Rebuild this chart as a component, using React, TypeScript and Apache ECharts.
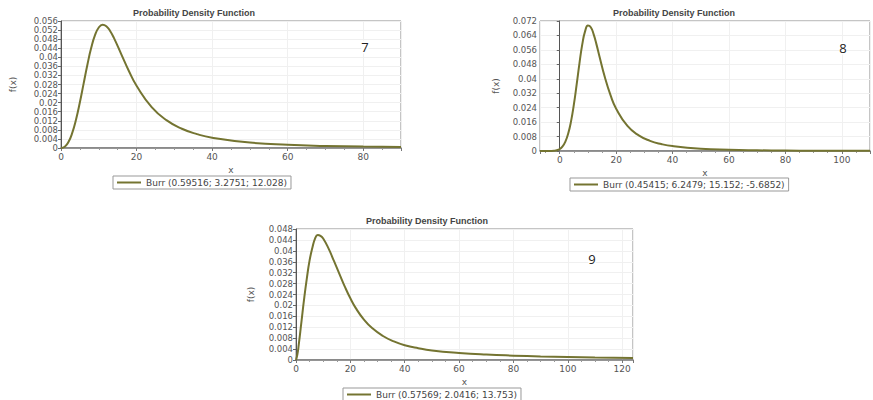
import React, { useEffect, useRef } from "react";
import * as echarts from "echarts";

// ---------- data ----------
const seriesName7 = "Burr (0.59516; 3.2751; 12.028)";
const seriesName8 = "Burr (0.45415; 6.2479; 15.152; -5.6852)";
const seriesName9 = "Burr (0.57569; 2.0416; 13.753)";

const x7 = [0, 1, 2, 3, 4, 5, 6, 7, 8, 9, 10, 11, 12, 13, 14, 16, 18, 20, 24, 28, 32, 36, 40, 50, 60, 70, 80, 90];
const y7 = [0, 0.00057, 0.00272, 0.00677, 0.01269, 0.02015, 0.02851, 0.03683, 0.04416, 0.04973, 0.05313, 0.05435, 0.05368, 0.05159, 0.04853, 0.04118, 0.03384, 0.02744, 0.01804, 0.01217, 0.00849, 0.00612, 0.00454, 0.00239, 0.0014, 0.0009, 0.00061, 0.00043];

const x8 = [-7, -5.69, -3, -2, -1, 0, 1, 2, 3, 4, 5, 6, 7, 8, 9, 10, 11, 12, 13, 14, 16, 18, 20, 24, 28, 32, 36, 40, 50, 60, 70, 80, 90, 100, 110];
const y8 = [0, 0, 0.00002, 0.00011, 0.0004, 0.00109, 0.00253, 0.0052, 0.00966, 0.01641, 0.02564, 0.03687, 0.04871, 0.05918, 0.0664, 0.06944, 0.06855, 0.06473, 0.05919, 0.05293, 0.04084, 0.03091, 0.02344, 0.01387, 0.00864, 0.00564, 0.00384, 0.00271, 0.00127, 0.00067, 0.00039, 0.00024, 0.00016, 0.00011, 0.00008];

const x9 = [0, 0.5, 1, 2, 3, 4, 5, 6, 7, 8, 9, 10, 12, 14, 16, 18, 20, 22, 25, 28, 32, 36, 40, 45, 50, 60, 70, 80, 90, 100, 110, 124];
const y9 = [0, 0.002, 0.0055, 0.014, 0.0225, 0.03, 0.0365, 0.041, 0.0445, 0.0458, 0.0455, 0.0445, 0.0408, 0.0362, 0.0315, 0.0268, 0.0226, 0.019, 0.0148, 0.0117, 0.0088, 0.0068, 0.0054, 0.0043, 0.0035, 0.0026, 0.002, 0.0016, 0.0013, 0.0011, 0.0009, 0.0007];

const xTickStep = 20;
const yTickSteps = [0.004, 0.008, 0.004];
const yMaxes = [0.056, 0.072, 0.048];
const xRanges: [number, number][] = [[0, 90], [-7, 110], [0, 124]];
const titleText = "Probability Density Function";
const panelNumbers = ["7", "8", "9"];

const FONT = "DejaVu Sans";
const LINE_COLOR = "#747431";

const zip = (xs: number[], ys: number[]) => xs.map((x, i) => [x, ys[i]]);

export default function App() {
  const ref = useRef<HTMLDivElement>(null);
  useEffect(() => {
    if (!ref.current) return;
    const chart = echarts.init(ref.current, null, { renderer: "svg" });
    const grids = [
      { left: 61, top: 21, width: 340, height: 127 },
      { left: 540, top: 21, width: 333, height: 130 },
      { left: 296, top: 229, width: 337, height: 131 },
    ];
    const names = [seriesName7, seriesName8, seriesName9];
    const datas = [zip(x7, y7), zip(x8, y8), zip(x9, y9)];
    const yNameGaps = [44, 40, 41];

    const option: any = {
      animation: false,
      backgroundColor: "#ffffff",
      title: [
        { left: 133, top: 8 },
        { left: 613, top: 8 },
        { left: 366, top: 216 },
      ].map((p) => ({
        text: titleText,
        left: p.left,
        top: p.top,
        padding: 0,
        textStyle: { fontSize: 9, fontWeight: "bold", color: "#444", fontFamily: "Liberation Sans" },
      })),
      grid: grids.map((g) => ({ ...g, show: true, borderColor: "#8a8a8a", borderWidth: 1, backgroundColor: "#fff" })),
      xAxis: grids.map((_, i) => ({
        gridIndex: i,
        type: "value",
        min: xRanges[i][0],
        max: xRanges[i][1],
        splitNumber: 6,
        name: "x",
        nameLocation: "middle",
        nameGap: 17,
        nameTextStyle: { fontSize: 9, color: "#555", fontFamily: FONT },
        axisLine: { show: true, onZero: false, lineStyle: { color: "#777", width: 1.5 } },
        axisTick: { show: true, length: 3, lineStyle: { color: "#777" } },
        minorTick: { show: true, splitNumber: 4, length: 2, lineStyle: { color: "#999" } },
        axisLabel: {
          fontSize: 9,
          color: "#555",
          fontFamily: FONT,
          margin: 4,
          formatter: (v: number) => (Math.abs(v % xTickStep) < 1e-9 ? String(v) : ""),
        },
        splitLine: { show: true, lineStyle: { color: "#f0f0f0", width: 1 } },
      })),
      yAxis: grids.map((_, i) => ({
        gridIndex: i,
        type: "value",
        min: 0,
        max: yMaxes[i],
        interval: yTickSteps[i],
        name: "f(x)",
        nameLocation: "middle",
        nameGap: yNameGaps[i],
        nameTextStyle: { fontSize: 9, color: "#555", fontFamily: FONT },
        axisLine: { show: true, lineStyle: { color: "#555", width: 1 } },
        axisTick: { show: true, length: 3, lineStyle: { color: "#666" } },
        axisLabel: {
          fontSize: 8.5,
          color: "#555",
          fontFamily: FONT,
          margin: 3,
          formatter: (v: number) => String(Number(v.toFixed(4))),
        },
        splitLine: { show: true, lineStyle: { color: "#f0f0f0", width: 1 } },
      })),
      legend: [
        { left: 113, top: 176 },
        { left: 570, top: 178 },
        { left: 343, top: 388 },
      ].map((p, i) => ({
        left: p.left,
        top: p.top,
        data: [names[i]],
        orient: "horizontal",
        icon: "rect",
        borderColor: "#999",
        borderWidth: 1,
        borderRadius: 0,
        padding: [1, 4, 1, 4],
        itemWidth: 24,
        itemHeight: 2,
        itemGap: 4,
        textStyle: { fontSize: 9, color: "#444", fontFamily: FONT, lineHeight: 11 },
      })),
      series: datas.map((d, i) => ({
        name: names[i],
        type: "line",
        xAxisIndex: i,
        yAxisIndex: i,
        data: d,
        symbol: "none",
        smooth: true,
        color: LINE_COLOR,
        itemStyle: { color: LINE_COLOR },
        lineStyle: { color: LINE_COLOR, width: 2 },
      })),
      graphic: [
        { x: 365, y: 47, t: panelNumbers[0] },
        { x: 843, y: 48, t: panelNumbers[1] },
        { x: 592, y: 259, t: panelNumbers[2] },
      ].map((p) => ({
        type: "text",
        x: p.x,
        y: p.y,
        z: 100,
        style: {
          text: p.t,
          fontSize: 13,
          fontFamily: "Open Sans",
          fill: "#222",
          textAlign: "center",
          textVerticalAlign: "middle",
          backgroundColor: "#fff",
        },
      })),
    };
    chart.setOption(option);
    return () => chart.dispose();
  }, []);
  return (
    <div
      ref={ref}
      style={{ position: "fixed", left: 0, top: 0, width: 873, height: 400, background: "#fff" }}
    />
  );
}
